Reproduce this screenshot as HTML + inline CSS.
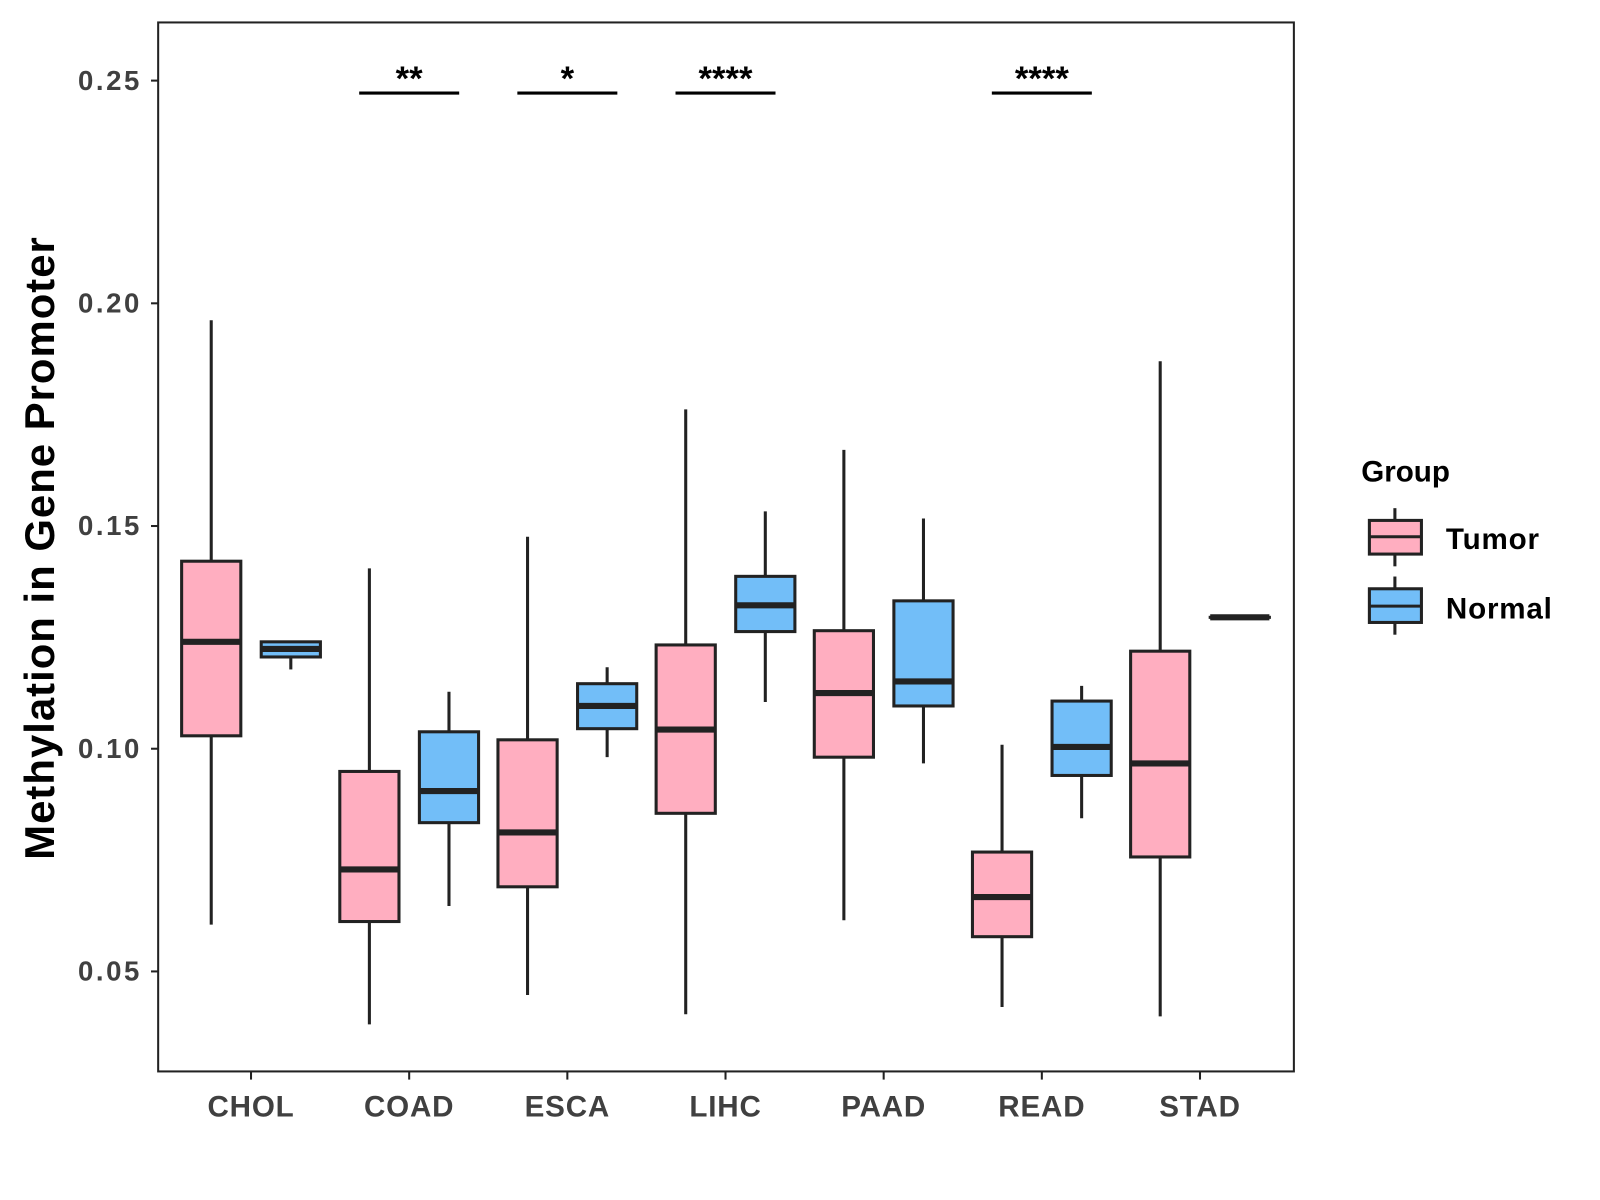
<!DOCTYPE html>
<html><head><meta charset="utf-8"><style>
html,body{margin:0;padding:0;background:#fff;}
svg{display:block;}
text{font-family:"Liberation Sans",sans-serif;font-weight:bold;}
</style></head><body>
<svg id="chart" width="1600" height="1200" viewBox="0 0 1568 1176">
<rect x="0" y="0" width="1568" height="1176" fill="#fff"/>
<g id="plot"></g>
<rect x="155" y="22" width="1113" height="1028" fill="none" stroke="#222" stroke-width="2"/>
<text x="0" y="0" transform="translate(53,537) rotate(-90)" text-anchor="middle" font-size="41" letter-spacing="1" fill="#000">Methylation in Gene Promoter</text>
<g>
<text x="1334" y="472" font-size="29" fill="#000">Group</text>
<g>
<line x1="1367" y1="498" x2="1367" y2="555" stroke="#222" stroke-width="3"/>
<rect x="1342" y="510" width="51" height="33" fill="#FFAEC0" stroke="#222" stroke-width="3"/>
<line x1="1342" y1="526" x2="1393" y2="526" stroke="#222" stroke-width="3"/>
<text x="1417" y="538" font-size="29" letter-spacing="0.8" fill="#000">Tumor</text>
</g>
<g>
<line x1="1367" y1="565" x2="1367" y2="622" stroke="#222" stroke-width="3"/>
<rect x="1342" y="577" width="51" height="33" fill="#72BEF8" stroke="#222" stroke-width="3"/>
<line x1="1342" y1="594" x2="1393" y2="594" stroke="#222" stroke-width="3"/>
<text x="1417" y="606" font-size="29" letter-spacing="0.8" fill="#000">Normal</text>
</g>
</g>
</svg>
<script>
const categories = ["CHOL","COAD","ESCA","LIHC","PAAD","READ","STAD"];
const tumorLo  = [0.0605,0.0381,0.0447,0.0404,0.0615,0.0420,0.0399];
const tumorQ1  = [0.1029,0.0612,0.0690,0.0855,0.0981,0.0578,0.0757];
const tumorMed = [0.1240,0.0729,0.0812,0.1043,0.1125,0.0667,0.0967];
const tumorQ3  = [0.1421,0.0949,0.1020,0.1233,0.1265,0.0768,0.1219];
const tumorHi  = [0.1962,0.1405,0.1476,0.1762,0.1671,0.1009,0.1870];
const normalLo  = [0.1178,0.0647,0.0981,0.1105,0.0967,0.0844,0.1295];
const normalQ1  = [0.1206,0.0834,0.1045,0.1263,0.1096,0.0940,0.1295];
const normalMed = [0.1224,0.0905,0.1096,0.1322,0.1151,0.1004,0.1295];
const normalQ3  = [0.1240,0.1038,0.1146,0.1387,0.1332,0.1107,0.1295];
const normalHi  = [0.1240,0.1128,0.1183,0.1533,0.1517,0.1141,0.1295];
const yTicks = [0.05,0.10,0.15,0.20,0.25];
const yTickLabels = ["0.05","0.10","0.15","0.20","0.25"];
const sigCategories = ["COAD","ESCA","LIHC","READ"];
const sigLabels = ["**","*","****","****"];
const sigLevel = 0.2472;

const NS="http://www.w3.org/2000/svg";
const svg=document.getElementById('chart');
const plot=document.getElementById('plot');
function y(v){return 952-(v-0.05)*4365;}
function x(i){return 246+i*155;}
function mk(tag,attrs,parent){const e=document.createElementNS(NS,tag);for(const k in attrs)e.setAttribute(k,attrs[k]);(parent||plot).appendChild(e);return e;}

yTicks.forEach((t,i)=>{
  const tk=mk('line',{x1:148,x2:155,y1:y(t),y2:y(t),stroke:'#222','stroke-width':2},svg);
  
  
  const lb=mk('text',{x:139,y:y(t)+9,'text-anchor':'end','font-size':27,'letter-spacing':2.5,fill:'#404040'},svg);
  lb.textContent=yTickLabels[i];
  
  
});
categories.forEach((c,i)=>{
  const tk=mk('line',{x1:x(i),x2:x(i),y1:1050,y2:1058,stroke:'#222','stroke-width':2},svg);
  
  
  const lb=mk('text',{x:x(i),y:1094,'text-anchor':'middle','font-size':29,'letter-spacing':0.8,fill:'#404040'},svg);
  lb.textContent=c;
  
  
});
function box(cx,lo,q1,med,q3,hi,fill,name){
  const g=mk('g',{});
  
  
  mk('line',{x1:cx,x2:cx,y1:y(hi),y2:y(lo),stroke:'#222','stroke-width':3},g);
  mk('rect',{x:cx-29,y:y(q3),width:58,height:Math.max(y(q1)-y(q3),0.01),fill:fill,stroke:'#222','stroke-width':3},g);
  mk('line',{x1:cx-29,x2:cx+29,y1:y(med),y2:y(med),stroke:'#222','stroke-width':6},g);
}
categories.forEach((c,i)=>{
  box(x(i)-39,tumorLo[i],tumorQ1[i],tumorMed[i],tumorQ3[i],tumorHi[i],'#FFAEC0','box-tumor-'+c.toLowerCase());
  box(x(i)+39,normalLo[i],normalQ1[i],normalMed[i],normalQ3[i],normalHi[i],'#72BEF8','box-normal-'+c.toLowerCase());
});
sigCategories.forEach((c,k)=>{
  const i=categories.indexOf(c);
  const ln=mk('line',{x1:x(i)-49,x2:x(i)+49,y1:y(sigLevel),y2:y(sigLevel),stroke:'#000','stroke-width':3});
  
  
  const t=mk('text',{x:x(i),y:y(sigLevel)-3,'text-anchor':'middle','font-size':34,fill:'#000'});
  t.textContent=sigLabels[k];
  
  
});
</script>
</body></html>
